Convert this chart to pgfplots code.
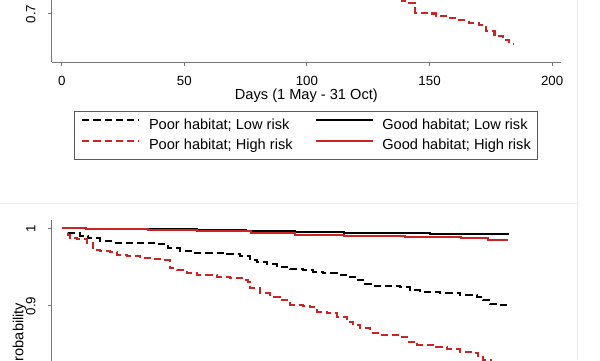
\documentclass[border=0pt]{standalone}
\usepackage{pgfplots}
\pgfplotsset{compat=1.18}
\usepackage{fontspec}
\setmainfont{Liberation Sans}
\definecolor{sred}{RGB}{205,35,35}
\definecolor{axgray}{RGB}{120,120,120}
\pgfplotsset{
 kmdash/.style={dash pattern=on 7.2pt off 4pt},
 panel/.style={
  scale only axis, width=509.3pt,
  xmin=-4.08, xmax=203.6,
  axis x line*=bottom, axis y line*=left,
  axis line style={axgray, line width=1pt},
  tick align=outside, major tick length=4pt,
  tick style={axgray, line width=1pt},
  xtick={0,50,100,150,200},
  /pgf/number format/assume math mode=true,
  tick label style={font=\fontsize{13.3}{16}\selectfont, inner sep=0pt},
  xticklabel style={anchor=base, yshift=-19.8pt},
  yticklabel style={xshift=-12.4pt, rotate=90, anchor=base},
  label style={font=\fontsize{14.6}{17}\selectfont},
  ylabel style={at={(axis description cs:-0.05537,0.5)}, anchor=base, inner sep=0pt},
  clip=true,
 },
}
\begin{document}
\begin{tikzpicture}[x=1pt,y=1pt]
\useasboundingbox (0,0) rectangle (600,360);
\fill[white] (0,0) rectangle (600,360);
\clip (0,0) rectangle (600,360);
\draw[black!8, line width=0.8pt] (577,360) -- (577,0);
\draw[black!8, line width=0.8pt] (0,157) -- (577,157);

% ---------------- top panel (lower part visible) ----------------
\begin{axis}[panel, at={(51.7pt,298pt)}, anchor=south west,
  height=287pt, ymin=0.6382, ymax=1.0076,
  ytick={0.7},
  xlabel={Days (1 May - 31 Oct)},
  xlabel style={at={(axis description cs:0.5,-0.1296)}, anchor=base, inner sep=0pt},
  legend columns=2, legend cell align=left,
  legend style={at={(0.0438,-0.1697)}, anchor=north west, draw=black!65, line width=0.8pt, fill=white,
     inner xsep=6.7pt, inner ysep=6.4pt,
     font=\fontsize{14.6}{17}\selectfont,
     nodes={inner sep=0pt, text height=11.5pt, text depth=3pt},
     row sep=6.2pt,
     /tikz/every odd column/.append style={column sep=8.7pt},
     /tikz/every even column/.append style={column sep=22pt}},
  legend image code/.code={\path (0pt,0pt); \draw[#1] (0pt,4.8pt) -- (57pt,4.8pt);},
]
\addlegendimage{black, line width=2.2pt, kmdash}
\addlegendentry{Poor habitat; Low risk}
\addlegendimage{black, line width=2pt}
\addlegendentry{Good habitat; Low risk}
\addlegendimage{sred, line width=2.2pt, kmdash}
\addlegendentry{Poor habitat; High risk}
\addlegendimage{sred, line width=2pt}
\addlegendentry{Good habitat; High risk}
\addplot[sred, kmdash, line width=2.2pt, const plot, forget plot] coordinates {
(125,0.735) (136,0.7205) (139,0.7167) (141.5,0.7142) (144,0.7017) (150.5,0.7006)
(152.5,0.6974) (157.5,0.6949) (162,0.6923) (166,0.6884) (170,0.6858) (173,0.6781)
(176.5,0.6717) (180,0.6665) (182.5,0.6614) (184,0.6614)};
\end{axis}

% ---------------- bottom panel (upper part visible) ----------------
\begin{axis}[panel, at={(51.7pt,-148pt)}, anchor=south west,
  height=288pt, ymin=0.64, ymax=1.01068,
  ytick={0.9,1}, xticklabels={},
  ylabel={Survival probability}]
% Poor habitat; Low risk
\addplot[black, kmdash, line width=2.2pt, const plot] coordinates {
(0,1) (2.6,0.9936) (7.5,0.9901) (10.7,0.9871) (15.6,0.9840) (20.9,0.9815) (31.9,0.9807)
(38.9,0.9798) (43.4,0.9743) (48.2,0.9712) (53.5,0.9686) (65.8,0.9669) (72.7,0.9644)
(76.8,0.9592) (79.6,0.9570) (83.7,0.9537) (87.8,0.9506) (93.1,0.9472) (98.4,0.9463)
(102.5,0.9441) (106.5,0.9421) (112.3,0.9399) (116.4,0.9369) (120.4,0.9335) (122.9,0.9283)
(127,0.9257) (138,0.9248) (142,0.9206) (146.1,0.9184) (154.3,0.9171) (162.4,0.9142)
(169.4,0.9120) (171.8,0.9077) (174.7,0.9026) (178,0.9009) (182,0.9009)};
% Good habitat; Low risk
\addplot[black, line width=2pt, const plot] coordinates {
(0,1) (10,0.9990) (30,0.9985) (55,0.9978) (75,0.9966) (95,0.9950) (115,0.9938)
(140,0.9934) (150,0.9930) (170,0.9927) (182,0.9925)};
% Poor habitat; High risk
\addplot[sred, kmdash, line width=2.2pt, const plot] coordinates {
(0,1) (2.6,0.9914) (3.4,0.9871) (6.2,0.9858) (10.3,0.9807) (12.8,0.9721) (15.6,0.9708)
(19.7,0.9699) (22.5,0.9656) (26.6,0.9643) (31.9,0.9614) (37.2,0.9601) (42.1,0.9592)
(44.2,0.9485) (47,0.9463) (51.1,0.9421) (55.2,0.9399) (63.3,0.9377) (68.6,0.9356)
(73.9,0.9335) (76,0.9313) (76.8,0.9228) (80.9,0.9163) (85,0.9120) (89,0.9077)
(93.1,0.9013) (98.4,0.9000) (101.3,0.8983) (104.1,0.8927) (108.2,0.8906) (112.3,0.8862)
(116.4,0.8798) (118.9,0.8755) (121.7,0.8713) (125.7,0.8656) (129.8,0.8627) (138,0.8605)
(140.8,0.8541) (144.9,0.8498) (151.5,0.8468) (157.1,0.8447) (162.4,0.8412) (167.7,0.8399)
(169.8,0.8347) (171.8,0.8305) (175,0.8260) (178,0.8210) (182,0.8210)};
% Good habitat; High risk
\addplot[sred, line width=2pt, const plot] coordinates {
(0,1) (10,0.9985) (35,0.9975) (55,0.9965) (77,0.9936) (95,0.9914) (115,0.9900)
(140,0.9890) (163,0.9871) (174,0.9850) (182,0.9850)};
\end{axis}
\end{tikzpicture}
\end{document}
